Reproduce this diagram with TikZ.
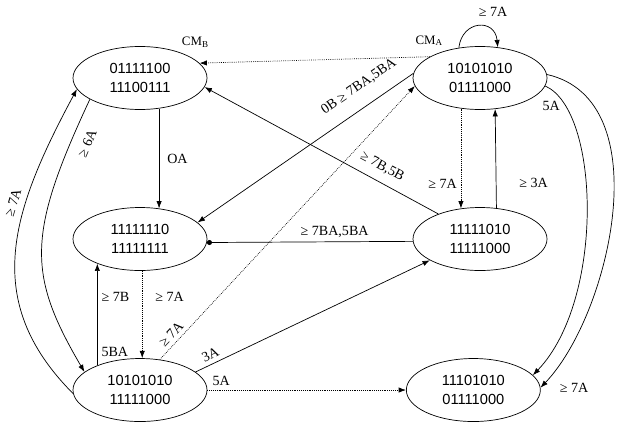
\documentclass[tikz,border=0pt]{standalone}
\usepackage{fontspec}
\setmainfont{Liberation Serif}
\newfontfamily\bitfont{Liberation Sans}
\usetikzlibrary{positioning,shapes.geometric,arrows.meta}

\begin{document}
\begin{tikzpicture}[x=0.03cm, y=-0.03cm, on grid, semithick,
    font=\fontsize{12}{14}\selectfont,
    bits/.style={draw=black, ellipse, minimum width=4.02cm, minimum height=1.89cm, inner sep=0pt, align=center, font=\bitfont\fontsize{12.5}{15.8}\selectfont},
    every label/.style={font=\rmfamily\fontsize{11}{13}\selectfont},
    faint/.style={densely dotted},
    >={Latex[length=2.2mm,width=1.6mm]}]
    \useasboundingbox (0,0) rectangle (624,426);
    % States
    \node[bits, label={35:CM\textsubscript{B}}] (cm_b) at (140,78) {01111100\\11100111};
    \node[bits, label={140:CM\textsubscript{A}}] (cm_a) [right=10.2cm of cm_b] {10101010\\01111000};
    \node[bits] (all_set) [below=4.83cm of cm_b] {11111110\\11111111};
    \node[bits] (mid) [below=4.83cm of cm_a] {11111010\\11111000};
    \node[bits] (start) [below=4.53cm of all_set] {10101010\\11111000};
    \node[bits] (final) [right=10cm of start] {11101010\\01111000};

    % Arrows
    \draw[->, faint] (cm_a.157) -- (cm_b.14);
    \draw[->] (cm_a.125) .. controls (462,20) and (495,18) .. node[above=1.7mm, xshift=4.4mm] {≥ 7A} (cm_a.60);
    \draw[->] (cm_b.-58) -- node[right=1.2mm] {OA} (all_set.58);
    \draw[<-] (all_set.16) -- node[sloped, above=3mm, pos=0.8] {0B ≥ 7BA,5BA} (cm_a.176);
    \draw[<-] (cm_b.-8) -- node[sloped, above=1.4mm, pos=0.73] {≥ 7B,5B} (mid.149);
    \draw[->, faint] (start.57) -- node[sloped, above, pos=0.07] {≥ 7A} (cm_a.187);
    \draw[-{Circle[length=1.5mm]}] (mid.182) -- node[above, pos=0.38] {≥ 7BA,5BA} (all_set.-3);
    \draw[->, faint] (cm_a.-122) -- node[left, pos=0.75] {≥ 7A} (mid.122);
    \draw[->] (mid.62) -- node[right=5.7mm, pos=0.25] {≥ 3A} (cm_a.-64);
    \draw[->] (cm_a.3) .. controls (660,100) and (610,315) .. node[right=4.5mm, pos=1] {≥ 7A} (final.2);
    \draw[->] (cm_a.-7) .. controls (600,110) and (605,300) .. node[below=1.5mm, pos=0.06, xshift=-1mm] {5A} (final.14);
    \draw[->] (start.183) .. controls (-20,300) and (12,210) .. node[sloped, above=1mm, pos=0.65] {≥ 7A} (cm_b.190);
    \draw[<-] (start.162) .. controls (27,274) and (27,234) .. node[sloped, below=2mm, pos=0.9] {≥ 6A} (cm_b.203);
    \draw[->] (start.150) -- node[right, pos=0.67] {≥ 7B} node[right, pos=0.13] {5BA} (all_set.210);
    \draw[->, faint] (all_set.-86) -- node[right=2.7mm, pos=0.3] {≥ 7A} (start.86);
    \draw[->] (start.18) -- node[sloped, above, pos=0.08] {3A} (mid.203);
    \draw[->, faint] (start.east) -- node[above, pos=0.07] {5A} (final.west);
\end{tikzpicture}
\end{document}
